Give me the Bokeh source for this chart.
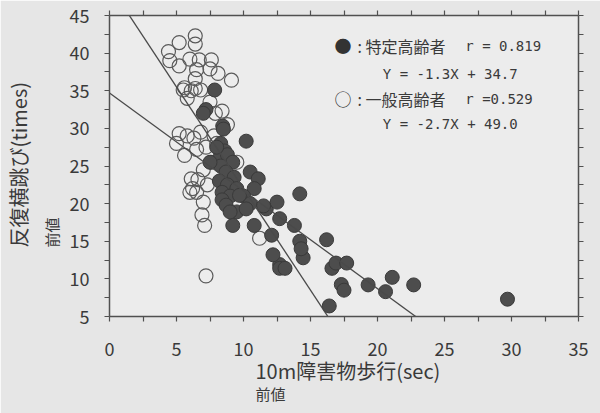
import math
from bokeh.plotting import figure
from bokeh.models import Range1d, LinearAxis, FixedTicker, Label, Title
from bokeh.embed import file_html
from bokeh.resources import INLINE

# ---- data ----
tokutei_x = [7.85, 7.2, 7.0, 8.45, 8.5, 10.2, 8.3, 8.6, 8.2, 8.8, 9.2, 8.3, 8.7, 9.3, 8.2,
             8.8, 9.5, 8.4, 9.0, 8.4, 8.7, 9.5, 9.2, 10.5, 11.1, 10.8, 10.0, 10.5, 11.7, 12.5,
             12.7, 10.8, 12.7, 13.8, 12.1, 12.2, 12.7, 13.1, 14.2, 14.2, 14.45, 14.3, 16.2, 16.6, 16.9,
             17.7, 17.3, 17.5, 19.3, 21.1, 20.6, 22.7, 29.7, 16.4, 9.7, 10.2, 9.0, 7.5, 11.5, 8.0]
tokutei_y = [35.1, 32.5, 32.0, 30.3, 29.9, 28.3, 28.0, 27.0, 26.0, 26.5, 25.5, 25.0, 24.2, 23.5, 23.0,
             22.5, 22.0, 21.5, 21.0, 20.5, 19.8, 18.9, 17.1, 24.2, 23.3, 22.0, 21.0, 20.0, 19.3, 20.2,
             18.0, 17.1, 11.9, 17.1, 15.8, 13.2, 11.4, 11.4, 21.3, 15.0, 12.8, 14.0, 15.2, 11.4, 12.1,
             12.1, 9.25, 8.5, 9.2, 10.2, 8.3, 9.2, 7.3, 6.4, 21.1, 19.3, 18.9, 25.5, 19.7, 27.5]

ippan_x = [6.4, 6.4, 5.2, 4.4, 4.5, 5.2, 6.0, 6.7, 7.6, 7.5, 6.5, 8.1, 9.1, 6.4, 5.6,
           6.4, 6.8, 5.5, 6.1, 5.8, 8.4, 7.9, 5.2, 5.8, 6.8, 6.3, 5.0, 5.6, 6.5, 7.2,
           6.1, 6.6, 6.0, 6.5, 7.0, 6.9, 7.1, 7.2, 7.8, 8.3, 7.6, 7.0, 9.5, 9.2, 8.8,
           11.2, 6.2, 7.3, 8.0, 7.5]
ippan_y = [42.3, 41.2, 41.4, 40.2, 39.0, 38.3, 39.2, 39.1, 39.1, 37.9, 37.8, 37.3, 36.4, 36.6, 35.4,
           35.3, 35.1, 35.1, 35.0, 34.0, 32.3, 32.0, 29.3, 29.0, 29.5, 28.7, 28.0, 26.4, 27.2, 27.5,
           23.3, 23.2, 21.5, 21.5, 20.2, 18.5, 17.1, 10.4, 29.0, 27.0, 25.5, 24.5, 25.5, 21.5, 30.5,
           15.4, 22.0, 22.5, 28.0, 33.5]

# regression lines from the legend: Y = slope*X + intercept
line_slopes = [-1.3, -2.7]
line_intercepts = [34.7, 49.0]
line_x_span = [0, 35]

x_ticks = [0, 5, 10, 15, 20, 25, 30, 35]
x_minor = [2.5, 7.5, 12.5, 17.5, 22.5, 27.5, 32.5]
y_ticks = [5, 10, 15, 20, 25, 30, 35, 40, 45]
y_minor = [7.5, 12.5, 17.5, 22.5, 27.5, 32.5, 37.5, 42.5]

legend_rows = [
    ("●", ": 特定高齢者", "r = 0.819", "Y = -1.3X + 34.7"),
    ("○", ": 一般高齢者", "r =0.529", "Y = -2.7X + 49.0"),
]

x_title = "10m障害物歩行(sec)"
y_title = "反復横跳び(times)"
sub_title = "前値"

FONT = "Noto Sans CJK JP"
MONO = "DejaVu Sans Mono"
INK = "#3a3a3a"

p = figure(width=600, height=413, output_backend="svg", toolbar_location=None,
           x_range=Range1d(0, 35), y_range=Range1d(5, 45),
           min_border_left=109, min_border_right=22, min_border_top=15, min_border_bottom=97)
p.background_fill_color = "#ececec"
p.border_fill_color = "#e6e6e6"
p.outline_line_color = None
p.grid.grid_line_color = None

def style_axis(ax, show_labels=True, ticks=None):
    ax.axis_line_color = "#505050"
    ax.axis_line_width = 1.5
    ax.major_tick_line_color = "#505050"
    ax.minor_tick_line_color = "#505050"
    ax.major_tick_line_width = 1.2
    ax.minor_tick_line_width = 1.2
    ax.major_tick_out = 5
    ax.major_tick_in = 0
    ax.minor_tick_out = 5
    ax.minor_tick_in = 0
    if show_labels:
        ax.major_label_text_font = FONT
        ax.major_label_text_font_size = "18px"
        ax.major_label_text_color = INK
    else:
        ax.major_label_overrides = {t: "" for t in ticks}
        ax.major_label_standoff = 0

p.xaxis.ticker = FixedTicker(ticks=x_ticks, minor_ticks=x_minor)
p.yaxis.ticker = FixedTicker(ticks=y_ticks, minor_ticks=y_minor)
style_axis(p.xaxis[0])
style_axis(p.yaxis[0])
p.xaxis.major_label_standoff = 20
p.yaxis.major_label_standoff = 15

top_ax = LinearAxis(ticker=FixedTicker(ticks=x_ticks, minor_ticks=x_minor))
right_ax = LinearAxis(ticker=FixedTicker(ticks=y_ticks, minor_ticks=y_minor))
style_axis(top_ax, False, x_ticks)
style_axis(right_ax, False, y_ticks)
p.add_layout(top_ax, "above")
p.add_layout(right_ax, "right")

# points
p.scatter(ippan_x, ippan_y, size=14, marker="circle", fill_color=None,
          line_color="#5a5a5a", line_width=1.2)
p.scatter(tokutei_x, tokutei_y, size=14, marker="circle", fill_color="#4d4d4d",
          line_color="#3a3a3a", line_width=1.0)

# regression lines
for m, b in zip(line_slopes, line_intercepts):
    p.line(line_x_span, [m * x + b for x in line_x_span], line_color="#4a4a4a", line_width=1.3)

# legend text block
row_y = [41.0, 33.93]
eq_y = [37.25, 30.61]
for (sym, name, r, eq), ry, ey in zip(legend_rows, row_y, eq_y):
    p.add_layout(Label(x=16.8, y=ry, text=sym, text_font=FONT, text_font_size="17px",
                       text_color="#333333", text_baseline="middle"))
    p.add_layout(Label(x=18.5, y=ry, text=name, text_font=FONT, text_font_size="16px",
                       text_color=INK, text_baseline="middle"))
    p.add_layout(Label(x=26.55, y=ry, text=r, text_font=MONO, text_font_size="14px",
                       text_color=INK, text_baseline="middle"))
    p.add_layout(Label(x=20.4, y=ey, text=eq, text_font=MONO, text_font_size="14px",
                       text_color=INK, text_baseline="middle"))

# axis titles (stacked outward from the axes)
p.add_layout(Title(text=x_title, align="left", offset=146, standoff=-9,
                   text_font=FONT, text_font_size="20px", text_font_style="normal",
                   text_color=INK), "below")
p.add_layout(Title(text=sub_title, align="left", offset=146, standoff=1,
                   text_font=FONT, text_font_size="15px", text_font_style="normal",
                   text_color=INK), "below")
p.add_layout(Title(text=sub_title, align="left", offset=69, standoff=9,
                   text_font=FONT, text_font_size="15px", text_font_style="normal",
                   text_color=INK), "left")
p.add_layout(Title(text=y_title, align="left", offset=69, standoff=0, vertical_align="top",
                   text_font=FONT, text_font_size="20px", text_font_style="normal",
                   text_color=INK), "left")

open("out.html", "w").write(file_html(p, INLINE))
